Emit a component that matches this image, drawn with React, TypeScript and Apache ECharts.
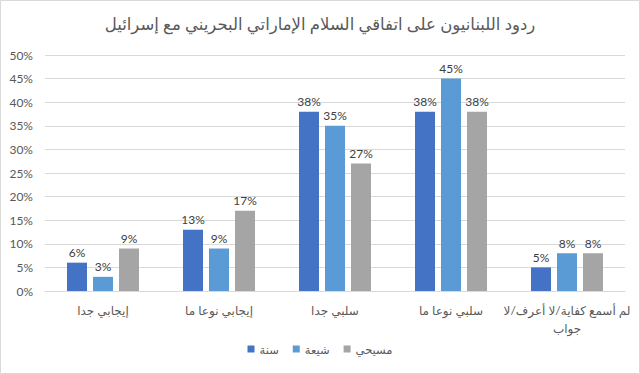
import React, { useEffect, useRef } from "react";
import * as echarts from "echarts";

const categories = [
  "إيجابي جدا",
  "إيجابي نوعا ما",
  "سلبي جدا",
  "سلبي نوعا ما",
  "لم أسمع كفاية/لا أعرف/لا\nجواب",
];
const seriesNames = ["سنة", "شيعة", "مسيحي"];
const sunni = [6, 13, 38, 38, 5];
const shia = [3, 9, 35, 45, 8];
const christian = [9, 17, 27, 38, 8];
const colors = ["#4472C4", "#5B9BD5", "#A5A5A5"];
const titleText = "ردود اللبنانيون على اتفاقي السلام الإماراتي البحريني مع إسرائيل";

const FONT = "Lato, 'DejaVu Sans', sans-serif";

export default function App() {
  const ref = useRef<HTMLDivElement>(null);
  useEffect(() => {
    if (!ref.current) return;
    const chart = echarts.init(ref.current, null, { renderer: "svg" });
    const values = [sunni, shia, christian];
    chart.setOption({
      animation: false,
      textStyle: { fontFamily: FONT },
      title: {
        text: titleText,
        left: "center",
        top: 10,
        textStyle: { fontSize: 16.5, fontWeight: "normal", color: "#595959", fontFamily: FONT },
      },
      graphic: [
        {
          type: "rect",
          shape: { x: 0.5, y: 0.5, width: 639, height: 373 },
          style: { fill: "none", stroke: "#D9D9D9", lineWidth: 1 },
          silent: true,
        },
      ],
      legend: {
        data: seriesNames,
        bottom: 14,
        left: "center",
        icon: "rect",
        itemWidth: 7,
        itemHeight: 7,
        itemGap: 14,
        textStyle: { fontSize: 11.5, color: "#595959", fontFamily: FONT },
      },
      grid: { left: 45, right: 15, top: 55, bottom: 83 },
      xAxis: {
        type: "category",
        data: categories,
        axisTick: { show: false },
        axisLine: { lineStyle: { color: "#D9D9D9" } },
        axisLabel: { color: "#595959", fontSize: 12, margin: 10, interval: 0, lineHeight: 18, fontFamily: FONT },
      },
      yAxis: {
        type: "value",
        min: 0,
        max: 50,
        interval: 5,
        axisLabel: { formatter: "{value}%", color: "#595959", fontSize: 12, margin: 12, fontFamily: FONT },
        splitLine: { lineStyle: { color: "#D9D9D9" } },
        axisLine: { show: false },
        axisTick: { show: false },
      },
      series: seriesNames.map((name, i) => ({
        name,
        type: "bar",
        data: values[i],
        barWidth: 20,
        barGap: "30%",
        itemStyle: { color: colors[i] },
        label: {
          show: true,
          position: "top",
          formatter: "{c}%",
          color: "#404040",
          fontSize: 12,
          distance: 4,
          fontFamily: FONT,
        },
      })),
    });
    return () => chart.dispose();
  }, []);
  return (
    <div
      ref={ref}
      style={{ position: "fixed", left: 0, top: 0, width: 640, height: 374, background: "#fff" }}
    />
  );
}
